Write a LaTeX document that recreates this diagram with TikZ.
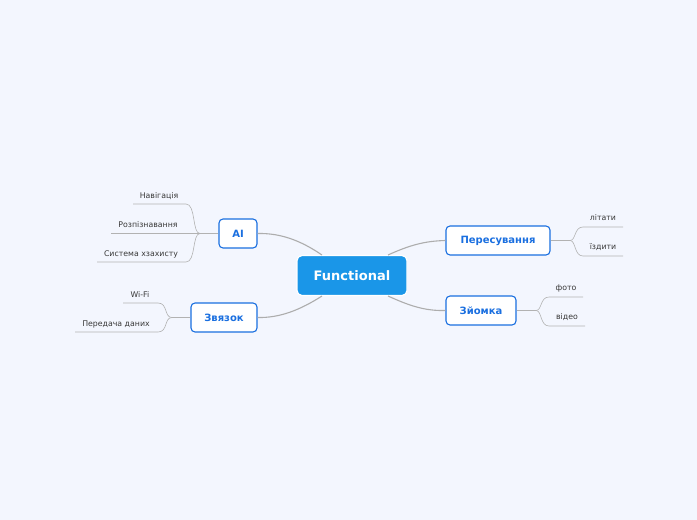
\documentclass[tikz,border=0pt]{standalone}
\usepackage{fontspec}
\setmainfont{DejaVu Sans}
\begin{document}
\begin{tikzpicture}[x=1pt,y=-1pt,
  conn/.style={draw=black!32,line width=1.1pt},
  leafl/.style={draw=black!30,line width=0.6pt},
  branch/.style={draw=bl,fill=white,rounded corners=4pt,line width=1.1pt,font=\fontsize{10}{12}\selectfont\bfseries,text=bl,inner sep=0pt},
  leaf/.style={font=\fontsize{7.8}{9}\selectfont,text=black!78,inner sep=0pt}]
\definecolor{cen}{HTML}{1A96E8}
\definecolor{bl}{HTML}{1A6FE0}
\definecolor{bg}{HTML}{F3F6FE}
\fill[bg] (0,0) rectangle (697,520);
\useasboundingbox (0,0) rectangle (697,520);
\node[fill=cen,draw=white,line width=1.2pt,rounded corners=5pt,minimum width=110pt,minimum height=40pt,text=white,font=\fontsize{13}{15}\selectfont\bfseries] (c) at (352,275.5) {Functional};
\node[branch,minimum width=38pt,minimum height=29pt] (ai) at (238,233.5) {AI};
\node[branch,minimum width=66pt,minimum height=29pt] (zv) at (224,317.5) {Звязок};
\node[branch,minimum width=104pt,minimum height=29pt] (pe) at (498,240.5) {Пересування};
\node[branch,minimum width=70pt,minimum height=29pt] (zy) at (481,310.5) {Зйомка};
\draw[conn] (322,255) .. controls (300,240) and (280,233) .. (ai.east);
\draw[conn] (388,255) .. controls (410,245) and (425,241) .. (pe.west);
\draw[conn] (322,296) .. controls (300,310) and (280,318) .. (zv.east);
\draw[conn] (388,296) .. controls (410,306) and (425,311) .. (zy.west);
% AI leaves
\coordinate (aj) at (200,233.5);
\draw[leafl] (ai.west) -- (aj);
\draw[leafl] (aj) .. controls (192,233.5) and (196,204) .. (186,204) -- (133,204);
\draw[leafl] (aj) -- (111,233.5);
\draw[leafl] (aj) .. controls (192,233.5) and (196,262) .. (186,262) -- (97,262);
\node[leaf] (a1) at (159,196) {Навігація};
\node[leaf] (a2) at (148,225) {Розпізнавання};
\node[leaf] (a3) at (141,254) {Система хзахисту};
% Zv leaves
\coordinate (zj) at (172,317.5);
\draw[leafl] (zv.west) -- (zj);
\draw[leafl] (zj) .. controls (164,317.5) and (168,303) .. (158,303) -- (123,303);
\draw[leafl] (zj) .. controls (164,317.5) and (168,332) .. (158,332) -- (75,332);
\node[leaf] (z1) at (140,295) {Wi-Fi};
\node[leaf] (z2) at (116,324) {Передача даних};
% Pe leaves
\coordinate (pj) at (570,240.5);
\draw[leafl] (pe.east) -- (pj);
\draw[leafl] (pj) .. controls (576,240.5) and (574,227) .. (583,227) -- (623,227);
\draw[leafl] (pj) .. controls (576,240.5) and (574,256) .. (583,256) -- (623,256);
\node[leaf] (p1) at (603,218) {літати};
\node[leaf] (p2) at (603,247) {їздити};
% Zy leaves
\coordinate (yj) at (536,310.5);
\draw[leafl] (zy.east) -- (yj);
\draw[leafl] (yj) .. controls (542,310.5) and (540,297) .. (549,297) -- (583,297);
\draw[leafl] (yj) .. controls (542,310.5) and (540,326) .. (549,326) -- (585,326);
\node[leaf] (y1) at (566,288) {фото};
\node[leaf] (y2) at (567,317) {відео};
\end{tikzpicture}
\end{document}
